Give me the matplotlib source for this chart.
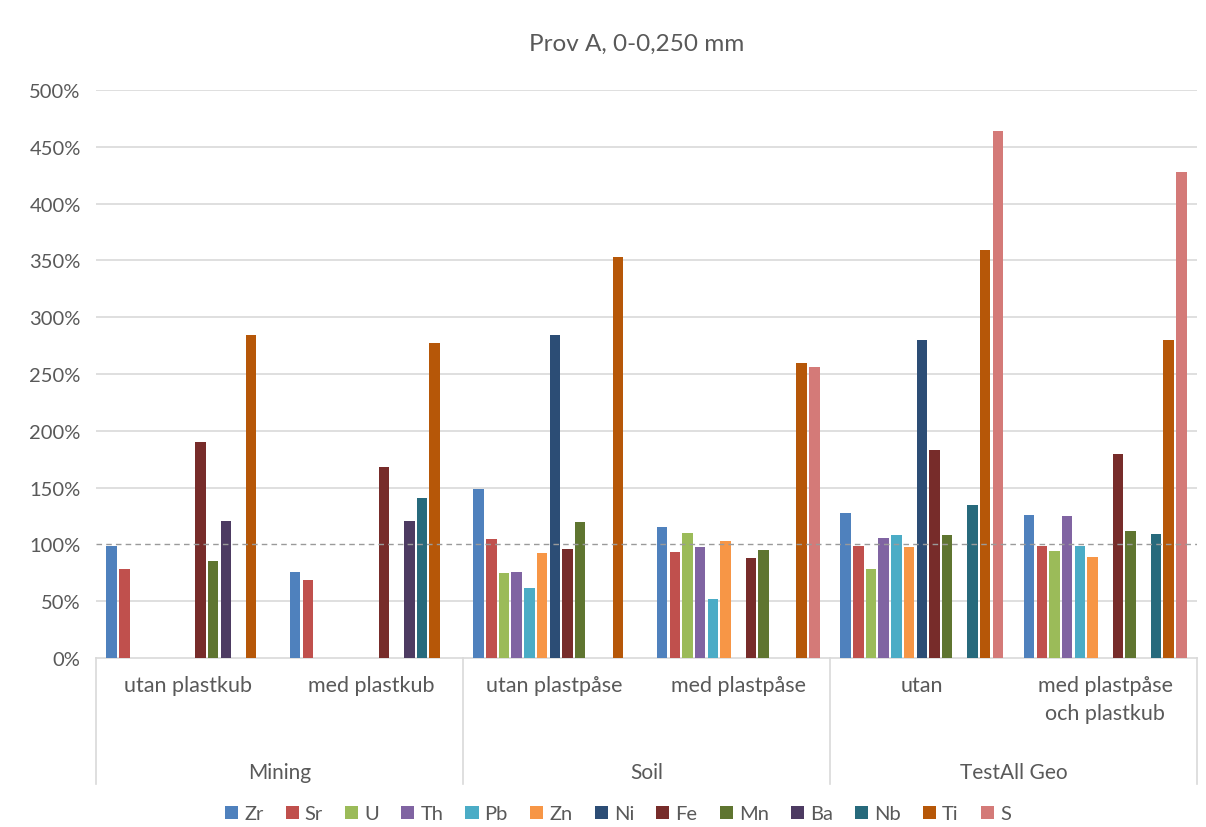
import matplotlib
matplotlib.use("Agg")
import matplotlib.pyplot as plt
import numpy as np
from matplotlib.patches import Patch

plt.rcParams['font.family'] = ['Lato', 'DejaVu Sans']

title = "Prov A, 0-0,250 mm"
categories = ["utan plastkub", "med plastkub", "utan plastpåse", "med plastpåse",
              "utan", "med plastpåse\noch plastkub"]
groups = ["Mining", "Soil", "TestAll Geo"]
series = ["Zr", "Sr", "U", "Th", "Pb", "Zn", "Ni", "Fe", "Mn", "Ba", "Nb", "Ti", "S"]

# values in % (NaN = no bar)
nan = np.nan
Zr = [99, 76, 149, 115, 128, 126]
Sr = [78, 69, 105, 93, 99, 99]
U = [nan, nan, 75, 110, 78, 94]
Th = [nan, nan, 76, 98, 106, 125]
Pb = [nan, nan, 62, 52, 108, 99]
Zn = [nan, nan, 92, 103, 98, 89]
Ni = [nan, nan, 284, nan, 280, nan]
Fe = [190, 168, 96, 88, 183, 180]
Mn = [85, nan, 120, 95, 108, 112]
Ba = [121, 121, nan, nan, nan, nan]
Nb = [nan, 141, nan, nan, 135, 109]
Ti = [284, 277, 353, 260, 359, 280]
S = [nan, nan, nan, 256, 464, 428]
values = [Zr, Sr, U, Th, Pb, Zn, Ni, Fe, Mn, Ba, Nb, Ti, S]

colors = ["#4F81BD", "#C0504D", "#9BBB59", "#8064A2", "#4BACC6", "#F79646",
          "#2C4D75", "#772C2A", "#5F7530", "#4D3B62", "#276A7C", "#B65708", "#D47A78"]

W, H = 1206, 828
fig = plt.figure(figsize=(W / 100, H / 100), dpi=100)
ax_l, ax_r, ax_t, ax_b = 96, 1197, 91, 659
ax = fig.add_axes([ax_l / W, 1 - ax_b / H, (ax_r - ax_l) / W, (ax_b - ax_t) / H])

txt = "#595959"
n = len(series)
slot = 0.0691
bw = 0.057
x = np.arange(len(categories))
for j, (name, vals, c) in enumerate(zip(series, values, colors)):
    ax.bar(x + (j - (n - 1) / 2) * slot, np.nan_to_num(vals, nan=0.0), width=bw,
           color=c, label=name, zorder=3)

ax.set_xlim(-0.5, len(categories) - 0.5)
ax.set_ylim(0, 500)
ax.set_yticks(np.arange(0, 501, 50))
ax.set_yticklabels([f"{v}%" for v in range(0, 501, 50)], color=txt, fontsize=14.5)
ax.tick_params(axis='y', length=0, pad=11)
ax.set_xticks([])
for v in range(50, 501, 50):
    if v == 100:
        continue
    ax.axhline(v, color="#D9D9D9", lw=1.2, zorder=1)
ax.axhline(100, color="#9A9A9A", lw=1.0, ls=(0, (4, 3)), zorder=4)
for s in ["top", "right", "left"]:
    ax.spines[s].set_visible(False)
ax.spines["bottom"].set_color("#D9D9D9")
ax.spines["bottom"].set_linewidth(1.2)

# category labels
trans = ax.get_xaxis_transform()
for i, c in enumerate(categories):
    ax.text(i, -0.03, c, transform=trans, ha="center", va="top", fontsize=15.5,
            color=txt, linespacing=1.5)
for g, gname in enumerate(groups):
    ax.text(2 * g + 0.5, -0.201, gname, transform=trans, ha="center", va="center",
            fontsize=15, color=txt)
for xb in [-0.5, 1.5, 3.5, 5.5]:
    ax.plot([xb, xb], [0, -(785 - 659) / (ax_b - ax_t)], transform=trans,
            color="#D9D9D9", lw=1.2, clip_on=False)

fig.text(637 / W, 1 - 44 / H, title, ha="center", va="center", fontsize=17.5, color=txt)

handles = [Patch(facecolor=c, label=s) for s, c in zip(series, colors)]
fig.legend(handles=handles, loc="center", bbox_to_anchor=(618 / W, 1 - 815 / H),
           ncol=n, frameon=False, fontsize=14.5, handlelength=0.65, handleheight=0.65,
           handletextpad=0.3, columnspacing=1.1, labelcolor=txt)

fig.savefig("out.png", dpi=100, facecolor="white")
